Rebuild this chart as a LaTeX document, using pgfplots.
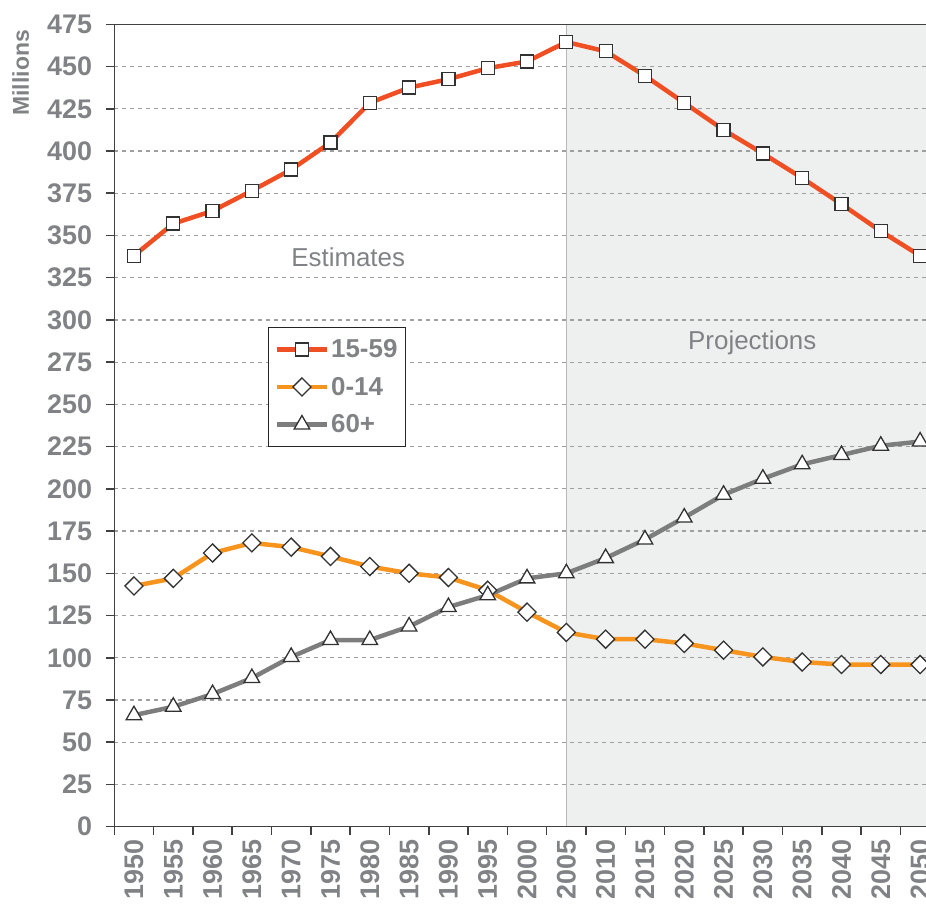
\documentclass[border=0pt]{standalone}
\usepackage{fontspec}
\setmainfont{Liberation Sans}
\usepackage{pgfplots}
\pgfplotsset{compat=1.18}
\definecolor{cRed}{RGB}{240,78,35}
\definecolor{cOrange}{RGB}{247,148,30}
\definecolor{cGray}{RGB}{125,125,125}
\definecolor{txt}{RGB}{128,130,133}
\definecolor{shade}{RGB}{238,240,240}
\definecolor{mk}{RGB}{50,50,50}
\begin{document}
\begin{tikzpicture}
\begin{axis}[
  name=ax, set layers,
  scale only axis, width=811.7bp, height=802.4bp,
  xmin=-0.5, xmax=20.15, ymin=0, ymax=475,
  axis x line*=bottom, axis y line*=left,
  axis line style={black!75, line width=1.5bp},
  ytick={0,25,...,475},
  xtick={-0.5,0.5,...,19.5}, xticklabels={},
  extra x ticks={0,1,...,20},
  extra x tick labels={1950,1955,1960,1965,1970,1975,1980,1985,1990,1995,2000,2005,2010,2015,2020,2025,2030,2035,2040,2045,2050},
  extra x tick style={major tick length=0pt},
  tick align=outside, major tick length=8bp,
  tick style={black!75, line width=1.5bp},
  ymajorgrids, major grid style={gray!75, line width=1.2bp, dash pattern=on 4bp off 4bp},
  /pgf/number format/assume math mode=true,
  ticklabel style={font=\fontsize{27}{30}\selectfont\bfseries, text=txt},
  yticklabel style={inner sep=0pt, xshift=-14bp},
  xticklabel style={inner sep=0pt, yshift=-13bp, rotate=90, anchor=east},
  clip=false,
  legend style={at={(rel axis cs:0.1894,0.6228)}, anchor=north west, draw=black!85, line width=1.3bp,
    font=\fontsize{26}{30}\selectfont\bfseries, text=txt, inner xsep=6bp, inner ysep=10bp, row sep=14bp},
  legend cell align=left,
  legend image code/.code={\draw[mark repeat=2,mark phase=2] plot coordinates {(0bp,0bp) (25bp,0bp) (50bp,0bp)};},
]
\addplot[draw=none, fill=shade, forget plot, on layer=axis background] coordinates {(11,0) (20.15,0) (20.15,475) (11,475)};
\addplot[gray!55, line width=1.5bp, forget plot, on layer=axis background] coordinates {(11,0) (11,475)};

\addplot[cRed, line width=4.5bp, mark=square*, mark size=6.5bp, mark options={fill=white, draw=mk, line width=1.3bp}]
 table {
0 338
1 357
2 364.5
3 376.5
4 389
5 405
6 428.5
7 437.5
8 442.5
9 449
10 453
11 464.5
12 459
13 444.5
14 428.5
15 412.5
16 398.5
17 384
18 368.5
19 352.5
20 338
};
\addlegendentry{15-59}
\addplot[cOrange, line width=4.5bp, mark=square*, mark size=6.4bp, mark options={rotate=45, fill=white, draw=mk, line width=1.3bp}]
 table {
0 142.5
1 147
2 162
3 168
4 165.5
5 160
6 154
7 150
8 147.5
9 140
10 127
11 115
12 111
13 111
14 108.5
15 104.5
16 100.5
17 97.5
18 96
19 96
20 96
};
\addlegendentry{0-14}
\addplot[cGray, line width=4.5bp, mark=triangle*, mark size=9bp, mark options={fill=white, draw=mk, line width=1.3bp}]
 table {
0 66
1 71
2 78.5
3 88
4 100.5
5 110.5
6 110.5
7 118.5
8 130
9 137
10 147
11 150
12 159
13 170
14 183
15 196.5
16 206
17 214.5
18 220
19 225.5
20 228
};
\addlegendentry{60+}

\draw[black!75, line width=1.5bp] (rel axis cs:0,1) -- (rel axis cs:1,1);
\node[font=\fontsize{26}{30}\selectfont, text=txt] at (axis cs:5.45,337) {Estimates};
\node[font=\fontsize{26}{30}\selectfont, text=txt] at (axis cs:15.73,286.4) {Projections};
\node[inner sep=0pt, font=\fontsize{23}{26}\selectfont\bfseries, text=txt, xshift=-102.3bp, yshift=-5.7bp, rotate=90, anchor=north east] at (rel axis cs:0,1) {Millions};
\end{axis}
\pgfresetboundingbox
\path[use as bounding box] ([xshift=-114.3bp,yshift=-77.3bp]ax.south west) rectangle ([yshift=24.3bp]ax.north east);
\end{tikzpicture}
\end{document}
